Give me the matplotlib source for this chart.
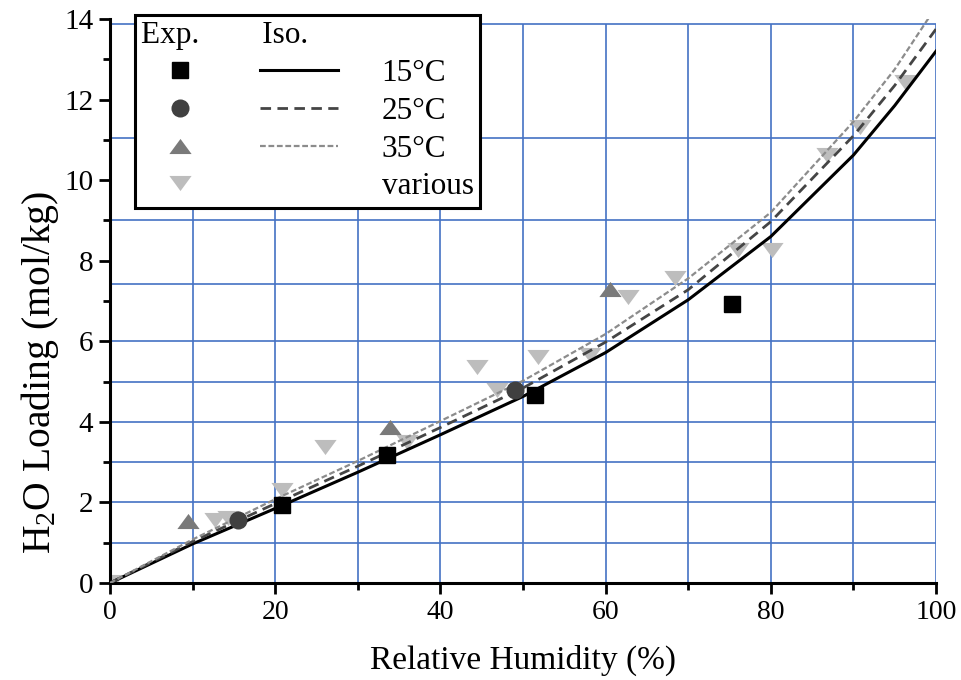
import numpy as np
import matplotlib
matplotlib.use("Agg")
import matplotlib.pyplot as plt
from matplotlib.lines import Line2D
from matplotlib.legend_handler import HandlerTuple

plt.rcParams['font.family'] = ['Liberation Serif', 'DejaVu Serif']
plt.rcParams['mathtext.fontset'] = 'custom'
plt.rcParams['mathtext.rm'] = 'Liberation Serif'
plt.rcParams['mathtext.it'] = 'Liberation Serif:italic'

# isotherm curves
rh_iso = [0, 10, 20, 30, 40, 50, 60, 70, 80, 90, 95, 100]
iso_15 = [0, 0.97, 1.85, 2.75, 3.68, 4.63, 5.72, 7.03, 8.60, 10.62, 11.85, 13.20]
iso_25 = [0, 1.03, 1.97, 2.90, 3.86, 4.84, 5.98, 7.28, 8.97, 11.10, 12.35, 13.75]
iso_35 = [0, 1.08, 2.08, 3.03, 4.02, 5.02, 6.18, 7.56, 9.20, 11.45, 12.75, 14.30]

# experimental points
rh_15 = [20.8, 33.5, 51.5, 75.3]
q_15 = [1.94, 3.18, 4.67, 6.92]
rh_25 = [15.5, 49.0]
q_25 = [1.56, 4.79]
rh_35 = [9.4, 33.9, 60.5]
q_35 = [1.53, 3.88, 7.29]
rh_var = [0.2, 12.7, 14.3, 20.8, 26.0, 35.9, 44.4, 46.8, 51.8, 58.1, 62.7, 68.4,
          76.0, 80.1, 86.8, 90.8, 96.2]
q_var = [0.02, 1.56, 1.61, 2.31, 3.38, 3.50, 5.37, 4.79, 5.61, 5.66, 7.11, 7.58,
         8.27, 8.27, 10.63, 11.33, 12.44]

# the blue overlay grid
grid_x = [10, 20, 30, 40, 50, 60, 70, 80, 90, 100]
grid_y = [1, 2, 3, 4, 5, 6, 7.43, 9, 11.05, 13.88]

tri_down = [(-1, 0.68), (1, 0.68), (0, -0.68)]
tri_up = [(-1, -0.68), (1, -0.68), (0, 0.68)]

fig = plt.figure(figsize=(9.61, 6.80), dpi=100, facecolor="w")
ax = fig.add_axes([110/961, 97/680, 826/961, 564/680])

blue = "#4472c4"
ax.hlines(grid_y, 0, 100, colors=blue, lw=1.2, zorder=1)
ax.vlines(grid_x, 0, grid_y[-1], colors=blue, lw=1.2, zorder=1)

ax.plot(rh_var, q_var, ls="none", marker=tri_down, ms=16, color="#bdbdbd", mec="none", zorder=2)
ax.plot(rh_iso, iso_15, color="k", lw=2.2, zorder=3)
ax.plot(rh_iso, iso_25, color="#454545", lw=2.0, dashes=(3.8, 2.3), zorder=3)
ax.plot(rh_iso, iso_35, color="#8c8c8c", lw=1.6, dashes=(2.6, 1.2), zorder=3)
ax.plot(rh_15, q_15, ls="none", marker="s", ms=11.5, color="k", zorder=4)
ax.plot(rh_25, q_25, ls="none", marker="o", ms=13, color="#404040", mec="none", zorder=4)
ax.plot(rh_35, q_35, ls="none", marker=tri_up, ms=16, color="#7a7a7a", mec="none", zorder=4)

ax.set_xlim(0, 100)
ax.set_ylim(0, 14)
for s in ["top", "right"]:
    ax.spines[s].set_visible(False)
for s in ["left", "bottom"]:
    ax.spines[s].set_linewidth(2.2)
ax.set_xticks(np.arange(0, 101, 20))
ax.set_xticks(np.arange(10, 100, 20), minor=True)
ax.set_yticks(np.arange(0, 15, 2))
ax.set_yticks(np.arange(1, 14, 2), minor=True)
ax.tick_params(which="major", direction="out", length=8, width=2.0)
ax.tick_params(which="minor", direction="out", length=5, width=2.0)
ax.tick_params(axis="x", labelsize=20, pad=4)
ax.tick_params(axis="y", labelsize=21, pad=4)

ax.set_xlabel("Relative Humidity (%)", fontsize=24)
ax.set_ylabel("H$_2$O Loading (mol/kg)", fontsize=28.5)
ax.xaxis.set_label_coords(0.5, -0.137)
ax.yaxis.set_label_coords(-0.085, 0.374)
ax.xaxis.label.set_va("center")
ax.yaxis.label.set_va("center")

# legend: marker column, line column, label
h_sq = Line2D([], [], ls="none", marker="s", ms=11.5, color="k")
h_ci = Line2D([], [], ls="none", marker="o", ms=13, color="#404040", mec="none")
h_up = Line2D([], [], ls="none", marker=tri_up, ms=16, color="#7a7a7a", mec="none")
h_dn = Line2D([], [], ls="none", marker=tri_down, ms=16, color="#bdbdbd", mec="none")
l_15 = Line2D([], [], color="k", lw=2.2)
l_25 = Line2D([], [], color="#454545", lw=2.0, dashes=(3.8, 2.3))
l_35 = Line2D([], [], color="#8c8c8c", lw=1.6, dashes=(2.6, 1.2))
l_no = Line2D([], [], ls="none")

leg = ax.legend([(h_sq, l_15), (h_ci, l_25), (h_up, l_35), (h_dn, l_no)],
                ["15°C", "25°C", "35°C", "various"],
                handler_map={tuple: HandlerTuple(ndivide=None, pad=1.3)},
                loc="upper left", bbox_to_anchor=(0.030, 1.007), borderaxespad=0,
                numpoints=1, handlelength=6.3, handletextpad=1.4, borderpad=0.2,
                labelspacing=0.28, fontsize=22.5, fancybox=False, framealpha=1,
                edgecolor="k", title="Exp.        Iso.", title_fontsize=22.5,
                alignment="left")
leg.get_frame().set_linewidth(2.2)
leg.set_zorder(5)

fig.savefig("out.png", dpi=100)
